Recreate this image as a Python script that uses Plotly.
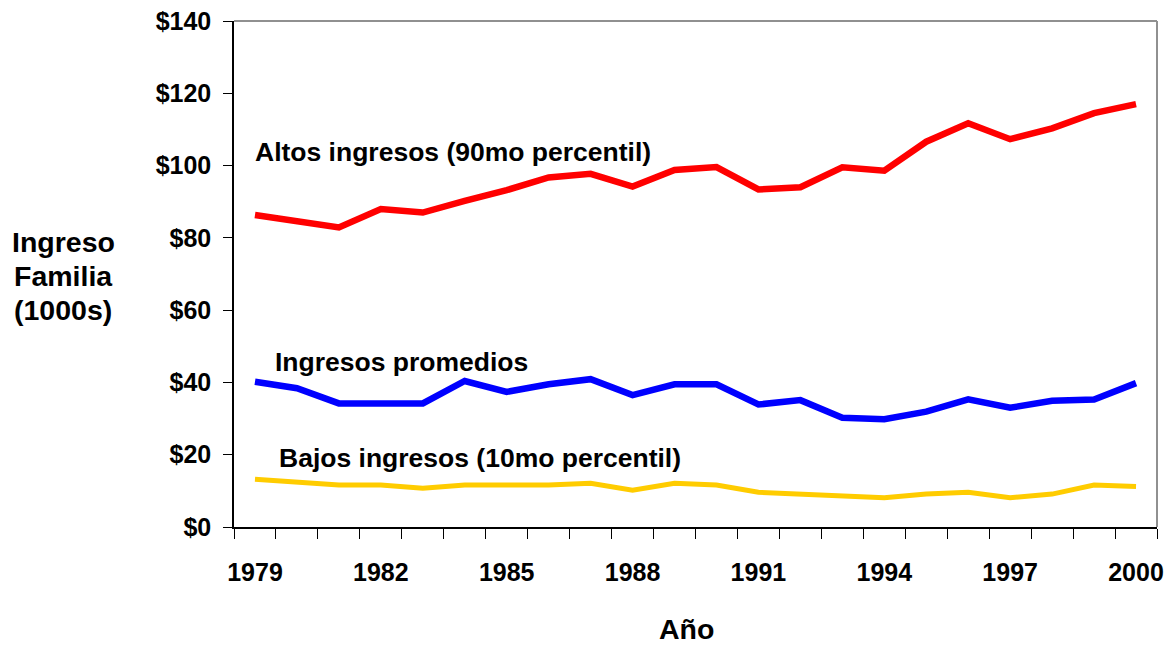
import plotly.graph_objects as go

years = list(range(1979, 2001))
altos = [86.3, 84.6, 82.9, 88.0, 87.0, 90.2, 93.2, 96.7, 97.7, 94.2, 98.8, 99.6,
         93.4, 94.0, 99.5, 98.6, 106.6, 111.7, 107.3, 110.3, 114.5, 117.0]
promedio = [40.2, 38.4, 34.2, 34.2, 34.2, 40.4, 37.4, 39.5, 40.9, 36.5, 39.5, 39.5,
            33.9, 35.1, 30.2, 29.8, 31.9, 35.3, 33.0, 34.9, 35.3, 39.8]
bajos = [13.2, 12.5, 11.6, 11.6, 10.7, 11.6, 11.6, 11.6, 12.1, 10.2, 12.1, 11.6,
         9.6, 9.1, 8.7, 8.1, 9.1, 9.6, 8.1, 9.1, 11.6, 11.2]
xtick_vals = list(range(1979, 2001, 3))
ytick_vals = list(range(0, 141, 20))
ytick_text = ["$" + str(v) for v in ytick_vals]
ytitle_lines = ["Ingreso", "Familia", "(1000s)"]

FONT = "Liberation Sans, Arial, sans-serif"

W, H = 1173, 646
ML, MR, MT, MB = 234, 16, 21, 119

fig = go.Figure()
fig.add_trace(go.Scatter(x=years, y=altos, mode="lines",
                         line=dict(color="#FF0000", width=6.5), showlegend=False))
fig.add_trace(go.Scatter(x=years, y=promedio, mode="lines",
                         line=dict(color="#0000FF", width=6.5), showlegend=False))
fig.add_trace(go.Scatter(x=years, y=bajos, mode="lines",
                         line=dict(color="#FFCC00", width=5), showlegend=False))

fig.update_layout(
    width=W, height=H,
    margin=dict(l=ML, r=MR, t=MT, b=MB, autoexpand=False),
    paper_bgcolor="white", plot_bgcolor="white",
    font=dict(family=FONT, color="black"),
    xaxis=dict(range=[1978.5, 2000.5], tickvals=xtick_vals, ticks="", automargin=False,
               showgrid=False, zeroline=False, showline=True, linecolor="black", linewidth=1.5,
               tickfont=dict(family=FONT, size=25, weight="bold"),
               ticklabelstandoff=22, ticklabeloverflow="allow",
               minor=dict(ticks="outside", tick0=1978.5, dtick=1, ticklen=10,
                          tickcolor="black", tickwidth=1.2, showgrid=False)),
    yaxis=dict(range=[0, 140], tickvals=ytick_vals, ticktext=ytick_text, ticks="outside",
               ticklen=9, tickcolor="black", tickwidth=1.2, automargin=False,
               showgrid=False, zeroline=False, showline=True, linecolor="black", linewidth=1.5,
               tickfont=dict(family=FONT, size=25, weight="bold"),
               ticklabelstandoff=7, ticklabeloverflow="allow"),
)

# grey top/right frame (paper refs so not clipped)
fig.add_shape(type="line", xref="paper", yref="paper", x0=0, x1=1, y0=1, y1=1,
              line=dict(color="#909090", width=2))
fig.add_shape(type="line", xref="paper", yref="paper", x0=1, x1=1, y0=0, y1=1,
              line=dict(color="#909090", width=2))

ann_font = dict(family=FONT, size=26.5, color="black", weight="bold")
fig.add_annotation(x=1978.96, y=103.8, xref="x", yref="y", text="Altos ingresos (90mo percentil)",
                   showarrow=False, xanchor="left", yanchor="middle", font=ann_font)
fig.add_annotation(x=1979.42, y=45.7, xref="x", yref="y", text="Ingresos promedios",
                   showarrow=False, xanchor="left", yanchor="middle", font=ann_font)
fig.add_annotation(x=1979.52, y=19.2, xref="x", yref="y", text="Bajos ingresos (10mo percentil)",
                   showarrow=False, xanchor="left", yanchor="middle", font=ann_font)


def px_to_paper(px, py):
    pw = W - ML - MR
    ph = H - MT - MB
    return (px - ML) / pw, (H - MB - py) / ph


title_font = dict(family=FONT, size=28.5, color="black", weight="bold")
for line_text, py in zip(ytitle_lines, [242, 276, 310]):
    tx, ty = px_to_paper(63, py)
    fig.add_annotation(x=tx, y=ty, xref="paper", yref="paper", text=line_text,
                       showarrow=False, xanchor="center", yanchor="middle", font=title_font)
ax_, ay_ = px_to_paper(686, 629)
fig.add_annotation(x=ax_, y=ay_, xref="paper", yref="paper", text="Año",
                   showarrow=False, xanchor="center", yanchor="middle", font=title_font)

fig.write_html("out.html", config={"displayModeBar": False},
               post_script="document.body.style.margin='0';document.body.style.overflow='hidden';")
